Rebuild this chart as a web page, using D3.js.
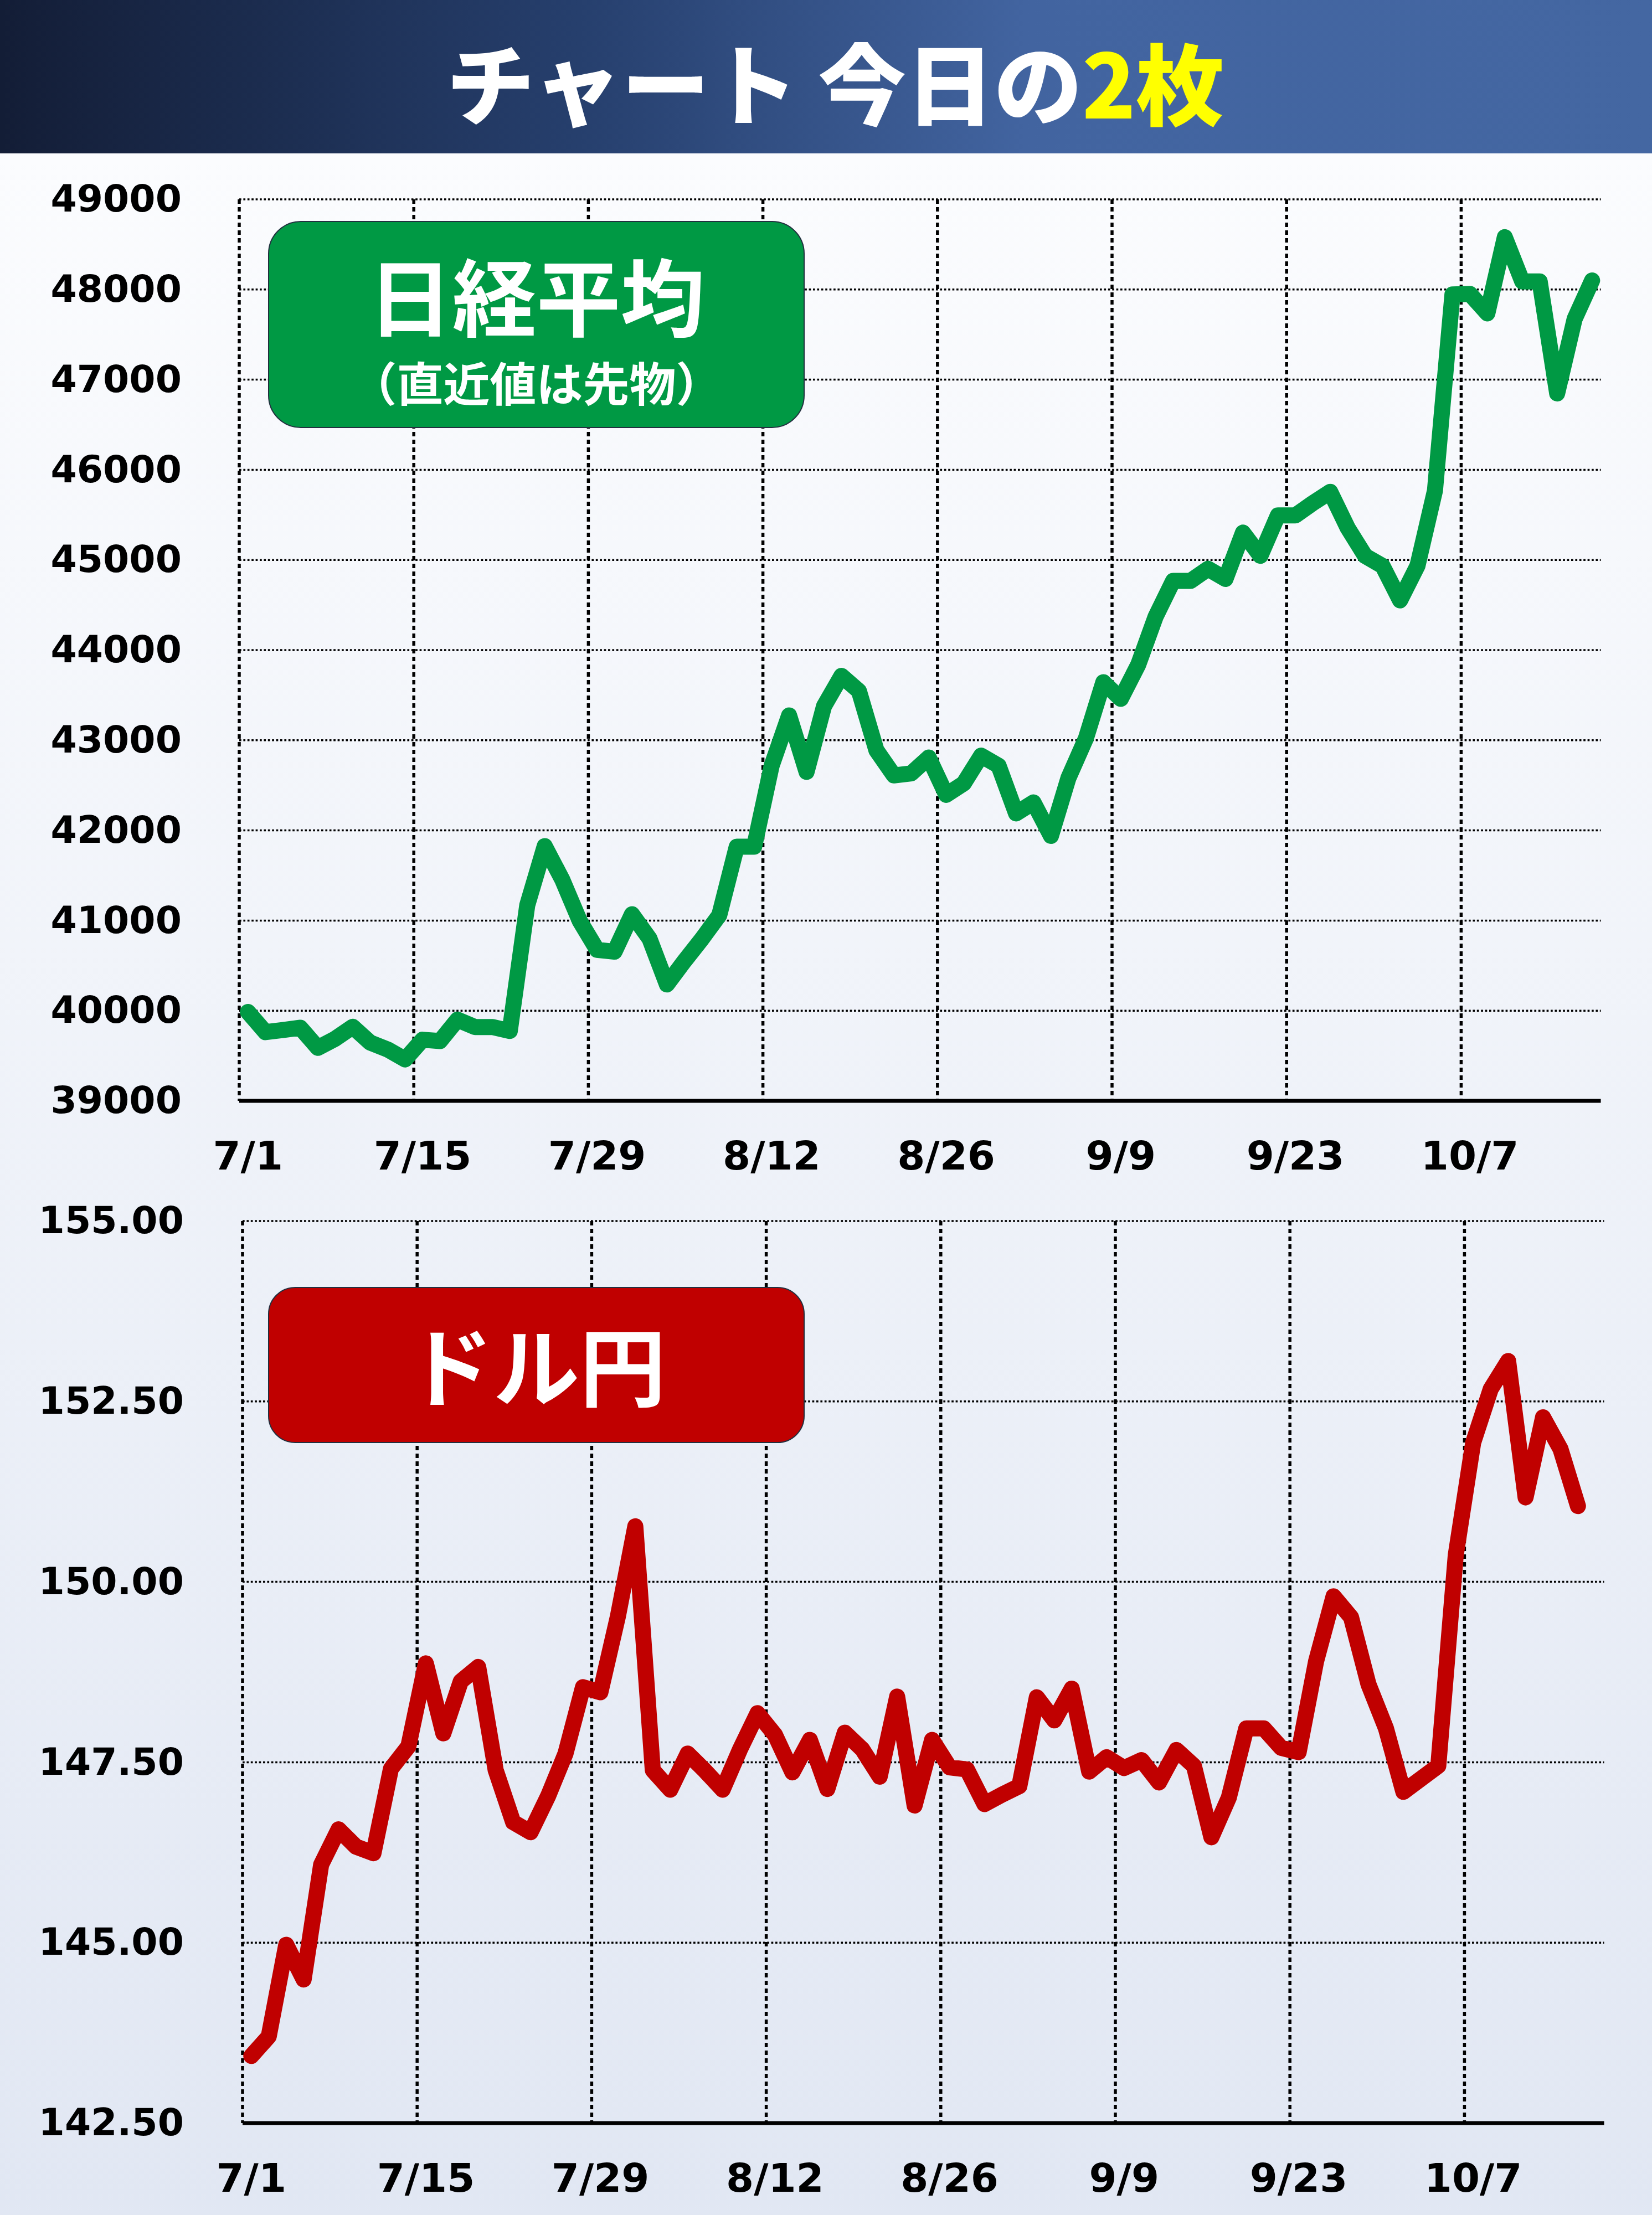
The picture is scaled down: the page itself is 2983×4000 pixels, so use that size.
<!DOCTYPE html>
<html>
<head>
<meta charset="utf-8">
<script src="https://cdn.jsdelivr.net/npm/d3@7"></script>
<style>
  html, body { margin: 0; padding: 0; background: #fff; }
  svg { display: block; }
</style>
</head>
<body>
<div id="chart"></div>
<script>
// weekday categories, 7/1 - 10/16
const dates = [
  "7/1","7/2","7/3","7/4","7/7","7/8","7/9","7/10","7/11","7/14",
  "7/15","7/16","7/17","7/18","7/21","7/22","7/23","7/24","7/25","7/28",
  "7/29","7/30","7/31","8/1","8/4","8/5","8/6","8/7","8/8","8/11",
  "8/12","8/13","8/14","8/15","8/18","8/19","8/20","8/21","8/22","8/25",
  "8/26","8/27","8/28","8/29","9/1","9/2","9/3","9/4","9/5","9/8",
  "9/9","9/10","9/11","9/12","9/15","9/16","9/17","9/18","9/19","9/22",
  "9/23","9/24","9/25","9/26","9/29","9/30","10/1","10/2","10/3","10/6",
  "10/7","10/8","10/9","10/10","10/13","10/14","10/15","10/16"
]
const tickDates = ["7/1","7/15","7/29","8/12","8/26","9/9","9/23","10/7"]

const nikkei = [
  39986, 39762, 39786, 39811, 39588, 39689, 39821, 39646, 39570, 39460,
  39678, 39663, 39901, 39819, 39819, 39775, 41171, 41826, 41456, 40998,
  40675, 40655, 41070, 40800, 40291, 40550, 40795, 41059, 41820, 41820,
  42718, 43275, 42649, 43378, 43714, 43546, 42889, 42610, 42633, 42808,
  42394, 42520, 42829, 42718, 42189, 42310, 41939, 42580, 43019, 43644,
  43459, 43838, 44373, 44768, 44768, 44902, 44790, 45303, 45046, 45494,
  45494, 45630, 45755, 45355, 45044, 44933, 44551, 44937, 45770, 47945,
  47951, 47735, 48580, 48089, 48089, 46847, 47673, 48100
]
const nikkeiTicks = [39000, 40000, 41000, 42000, 43000, 44000, 45000, 46000, 47000, 48000, 49000]

const usdjpy = [
  143.43, 143.70, 144.97, 144.49, 146.08, 146.57, 146.33, 146.24, 147.41, 147.72,
  148.87, 147.90, 148.62, 148.82, 147.39, 146.67, 146.53, 147.03, 147.62, 148.54,
  148.47, 149.52, 150.77, 147.39, 147.12, 147.62, 147.38, 147.12, 147.68, 148.18,
  147.88, 147.36, 147.81, 147.13, 147.91, 147.68, 147.30, 148.41, 146.90, 147.81,
  147.43, 147.40, 146.92, 147.05, 147.17, 148.40, 148.08, 148.52, 147.37, 147.57,
  147.42, 147.53, 147.22, 147.67, 147.45, 146.46, 147.01, 147.97, 147.97, 147.70,
  147.64, 148.90, 149.80, 149.51, 148.58, 147.97, 147.09, 147.27, 147.45, 150.37,
  151.93, 152.67, 153.06, 151.17, 152.28, 151.84, 151.05
]
const usdjpyTicks = [142.5, 145, 147.5, 150, 152.5, 155]

const width = 2983
const height = 4000
const headerH = 277
const numFont = "'DejaVu Sans', Verdana, sans-serif"
const jpFont = "'Noto Sans CJK JP', 'Noto Sans', sans-serif"

const svg = d3.select("#chart")
  .append("svg")
  .attr("width", width)
  .attr("height", height)

const defs = svg.append("defs")

const bgGrad = defs.append("linearGradient")
  .attr("id", "bg")
  .attr("x1", 0).attr("y1", 0).attr("x2", 0).attr("y2", 1)
bgGrad.append("stop").attr("offset", "0%").attr("stop-color", "#fbfcfe")
bgGrad.append("stop").attr("offset", "100%").attr("stop-color", "#e1e7f3")

const headGrad = defs.append("linearGradient")
  .attr("id", "head")
  .attr("x1", 0).attr("y1", 0).attr("x2", 1).attr("y2", 0)
headGrad.append("stop").attr("offset", "0%").attr("stop-color", "#131d36")
headGrad.append("stop").attr("offset", "35%").attr("stop-color", "#263f6d")
headGrad.append("stop").attr("offset", "62%").attr("stop-color", "#4264a0")
headGrad.append("stop").attr("offset", "100%").attr("stop-color", "#4467a2")

svg.append("rect")
  .attr("x", 0).attr("y", headerH)
  .attr("width", width).attr("height", height - headerH)
  .attr("fill", "url(#bg)")

svg.append("rect")
  .attr("x", 0).attr("y", 0)
  .attr("width", width).attr("height", headerH)
  .attr("fill", "url(#head)")

const title = svg.append("text")
  .attr("x", 1508)
  .attr("y", 145)
  .attr("text-anchor", "middle")
  .attr("dominant-baseline", "central")
  .attr("font-family", jpFont)
  .attr("font-weight", 900)
  .attr("font-size", 159)
title.append("tspan").attr("fill", "#ffffff").text("チャート 今日の")
title.append("tspan").attr("fill", "#ffff00").text("2枚")

function drawPanel(p) {
  const g = svg.append("g")

  const x = d3.scaleBand()
    .domain(dates)
    .range([p.left, p.right])
    .padding(0)

  const y = d3.scaleLinear()
    .domain(d3.extent(p.ticks))
    .range([p.bottom, p.top])

  const cx = d => x(d) + x.bandwidth() / 2

  // horizontal grid
  g.selectAll("line.hgrid")
    .data(p.ticks.slice(1))
    .enter()
      .append("line")
      .attr("class", "hgrid")
      .attr("x1", p.left)
      .attr("x2", p.right)
      .attr("y1", d => y(d))
      .attr("y2", d => y(d))
      .attr("stroke", "#000")
      .attr("stroke-width", 3.5)
      .attr("stroke-dasharray", "3.7,3.7")

  // vertical grid
  g.selectAll("line.vgrid")
    .data(tickDates)
    .enter()
      .append("line")
      .attr("class", "vgrid")
      .attr("x1", d => x(d))
      .attr("x2", d => x(d))
      .attr("y1", p.top)
      .attr("y2", p.bottom)
      .attr("stroke", "#000")
      .attr("stroke-width", 5.5)
      .attr("stroke-dasharray", "8,6")

  // bottom axis line
  g.append("line")
    .attr("x1", p.left)
    .attr("x2", p.right)
    .attr("y1", p.bottom)
    .attr("y2", p.bottom)
    .attr("stroke", "#000")
    .attr("stroke-width", 7)

  const yAxis = g.append("g")
    .attr("transform", `translate(${p.left},0)`)
    .call(d3.axisLeft(y).tickValues(p.ticks).tickSize(0).tickPadding(p.left - p.labelRight).tickFormat(p.fmt))
  yAxis.select(".domain").remove()
  yAxis.selectAll("text")
    .attr("font-family", numFont)
    .attr("font-weight", "bold")
    .attr("font-size", 68)
    .attr("fill", "#000")

  const xAxis = g.append("g")
    .attr("transform", `translate(0,${p.bottom})`)
    .call(d3.axisBottom(x).tickValues(tickDates).tickSize(0).tickPadding(73))
  xAxis.select(".domain").remove()
  xAxis.selectAll("text")
    .attr("font-family", numFont)
    .attr("font-weight", "bold")
    .attr("font-size", 72)
    .attr("fill", "#000")

  // label box
  g.append("rect")
    .attr("x", p.box.x)
    .attr("y", p.box.y)
    .attr("width", p.box.w)
    .attr("height", p.box.h)
    .attr("rx", p.box.r)
    .attr("fill", p.color)
    .attr("stroke", "#22303f")
    .attr("stroke-width", 2)

  g.selectAll("text.boxlabel")
    .data(p.labels)
    .enter()
      .append("text")
      .attr("class", "boxlabel")
      .attr("x", p.box.x + p.box.w / 2)
      .attr("y", d => d.y)
      .attr("text-anchor", "middle")
      .attr("dominant-baseline", "central")
      .attr("font-family", jpFont)
      .attr("font-weight", 700)
      .attr("font-size", d => d.size)
      .attr("fill", "#fff")
      .text(d => d.text)

  const line = d3.line()
    .x((d, i) => cx(dates[i]))
    .y(d => y(d))

  g.append("path")
    .datum(p.values)
    .attr("d", line)
    .attr("fill", "none")
    .attr("stroke", p.color)
    .attr("stroke-width", 29)
    .attr("stroke-linejoin", "round")
    .attr("stroke-linecap", "round")
}

drawPanel({
  values: nikkei,
  ticks: nikkeiTicks,
  fmt: d3.format("d"),
  left: 432,
  right: 432 + 78 * 31.52,
  top: 360,
  bottom: 1988,
  labelRight: 328,
  color: "#009944",
  box: { x: 485, y: 400, w: 967, h: 372, r: 58 },
  labels: [
    { text: "日経平均", size: 152, y: 530 },
    { text: "（直近値は先物）", size: 84, y: 688 }
  ]
})

drawPanel({
  values: usdjpy,
  ticks: usdjpyTicks,
  fmt: d3.format(".2f"),
  left: 438,
  right: 438 + 78 * 31.52,
  top: 2205,
  bottom: 3834,
  labelRight: 332,
  color: "#c00000",
  box: { x: 485, y: 2325, w: 967, h: 280, r: 48 },
  labels: [
    { text: "ドル円", size: 156, y: 2460 }
  ]
})
</script>
</body>
</html>
